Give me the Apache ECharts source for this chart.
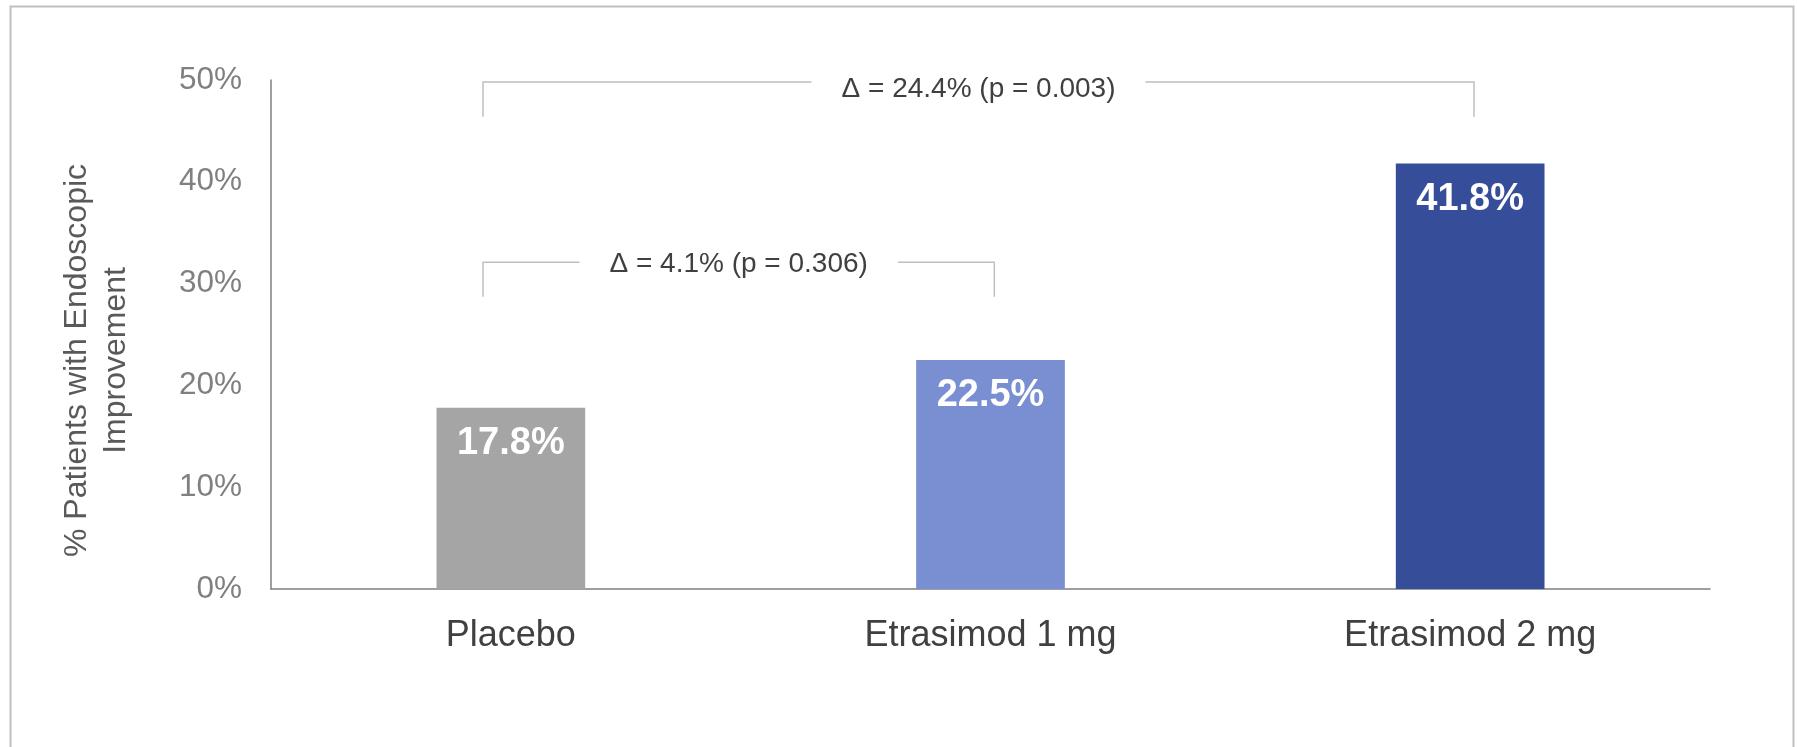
<!DOCTYPE html>
<html>
<head>
<meta charset="utf-8">
<title>Endoscopic Improvement</title>
<script src="https://cdn.jsdelivr.net/npm/echarts@6/dist/echarts.min.js"></script>
<style>
  html, body { margin: 0; padding: 0; background: #fff; }
  #chart { width: 1797px; height: 747px; }
</style>
</head>
<body>
<div id="chart"></div>
<script>
// Treatment arms and the share of patients with endoscopic improvement (%)
const categories = ['Placebo', 'Etrasimod 1 mg', 'Etrasimod 2 mg'];
const values = [17.8, 22.5, 41.8];
const barColors = ['#A5A5A5', '#798FD1', '#364E9A'];

// Y axis range (percent)
const yMin = 0;
const yMax = 50;
const yStep = 10;

// Pairwise comparisons against placebo
const compareFrom = [0, 0];
const compareTo = [1, 2];
const compareLabels = ['Δ = 4.1% (p = 0.306)', 'Δ = 24.4% (p = 0.003)'];

// Bracket heights in axis units (horizontal bar, and depth of the end ticks)
const BRACKET_LEVELS = [32.1, 49.8];
const BRACKET_DROP = 3.4;
// caption offset below each bracket bar, px
const CAPTION_DY = [2, 7];

const FONT = '"Liberation Sans", Arial, Helvetica, sans-serif';

const chart = echarts.init(document.getElementById('chart'), null, { renderer: 'canvas' });

const bracketData = compareFrom.map((f, i) => [f, compareTo[i], BRACKET_LEVELS[i]]);

const option = {
  backgroundColor: '#ffffff',
  animation: false,
  grid: { left: 271, right: 87, top: 80, bottom: 158 },
  graphic: [{
    type: 'rect',
    left: 8, top: 4,
    shape: { width: 1783, height: 742 },
    style: { fill: 'none', stroke: '#BFBFBF', lineWidth: 2 },
    silent: true,
    z: -10
  }],
  xAxis: {
    type: 'category',
    data: categories,
    axisTick: { show: false },
    axisLine: { show: true, lineStyle: { color: '#808080', width: 1.5 } },
    axisLabel: { color: '#404040', fontSize: 36, fontFamily: FONT, margin: 29 },
    splitLine: { show: false }
  },
  yAxis: {
    type: 'value',
    min: yMin, max: yMax, interval: yStep,
    axisTick: { show: false },
    axisLine: { show: true, lineStyle: { color: '#808080', width: 1.5 } },
    splitLine: { show: false },
    axisLabel: {
      formatter: '{value}%',
      color: '#808080', fontSize: 31.5, fontFamily: FONT, margin: 29
    },
    name: '% Patients with Endoscopic\nImprovement',
    nameLocation: 'middle',
    nameRotate: 90,
    nameGap: 135,
    nameTextStyle: {
      color: '#595959', fontSize: 32, fontFamily: FONT, lineHeight: 39,
      padding: [0, 52, 0, 0]
    }
  },
  series: [
    {
      type: 'bar',
      barWidth: '31%',
      data: values.map((v, i) => ({ value: v, itemStyle: { color: barColors[i] } })),
      label: {
        show: true,
        position: 'insideTop',
        distance: 17,
        formatter: p => p.value.toFixed(1) + '%',
        color: '#ffffff',
        fontSize: 38,
        fontWeight: 'bold',
        fontFamily: FONT
      },
      z: 2
    },
    {
      // comparison brackets with their Δ / p-value captions
      type: 'custom',
      coordinateSystem: 'cartesian2d',
      encode: { x: [0, 1], y: 2 },
      data: bracketData,
      clip: false,
      z: 3,
      renderItem: function (params, api) {
        const from = api.value(0);
        const to = api.value(1);
        const level = api.value(2);
        const band = api.size([1, 0])[0];
        const pL = api.coord([from, level]);
        const pR = api.coord([to, level]);
        const xL = pL[0] - 0.058 * band;
        const xR = pR[0] + 0.008 * band;
        const y = pL[1];
        const drop = api.size([0, BRACKET_DROP])[1];
        return {
          type: 'group',
          children: [
            {
              type: 'polyline',
              shape: { points: [[xL, y + drop], [xL, y], [xR, y], [xR, y + drop]] },
              style: { stroke: '#BFBFBF', lineWidth: 1.5, fill: null }
            },
            {
              type: 'text',
              x: (xL + xR) / 2,
              y: y + CAPTION_DY[params.dataIndex],
              style: {
                text: compareLabels[params.dataIndex],
                fill: '#404040',
                fontSize: 28,
                fontFamily: FONT,
                align: 'center',
                verticalAlign: 'middle',
                backgroundColor: '#ffffff',
                padding: [2, 30]
              }
            }
          ]
        };
      }
    }
  ]
};

chart.setOption(option);
</script>
</body>
</html>
